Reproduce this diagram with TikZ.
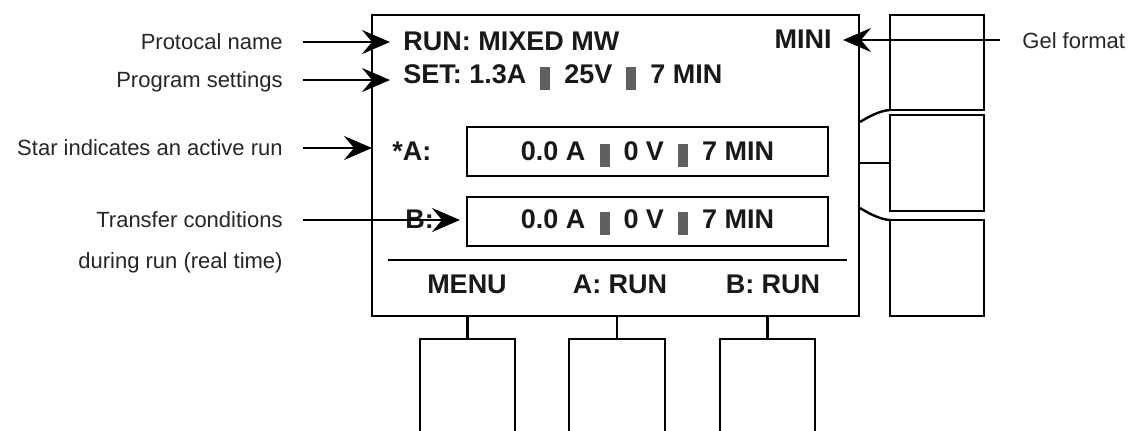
\documentclass[tikz,border=0pt]{standalone}
\usepackage{fontspec}
\setmainfont{Liberation Sans}
\usetikzlibrary{arrows.meta}
\newdimen\pxu \pxu=0.5pt
\definecolor{blkgray}{HTML}{606060}
\definecolor{lblcol}{HTML}{262626}
\newcommand{\blk}{\hspace{7pt}{\color{blkgray}\rule[-3.5pt]{5pt}{11.5pt}}\hspace{7pt}}
\begin{document}
\begin{tikzpicture}[x=0.5pt,y=-0.5pt,
  box/.style={draw, line width=1.4pt, rectangle, inner sep=0pt, outer sep=0pt, anchor=north west},
  dt/.style={font=\bfseries\fontsize{13.5}{16}\selectfont, inner sep=0pt, text=black!90},
  lbl/.style={font=\fontsize{11}{13}\selectfont, text=lblcol, inner sep=0pt, anchor=base east},
  arr/.style={line width=1pt, -{Stealth[length=14pt,width=12pt,inset=5pt]}},
  conn/.style={line width=1.2pt}]
\useasboundingbox (0,0) rectangle (1130,430);
\fill[white] (0,0) rectangle (1130,430);
\clip (0,0) rectangle (1130,430);

% display frame and buttons
\node[box, minimum width=487\pxu, minimum height=301\pxu] (disp) at (372,15) {};
\node[box, minimum width=94\pxu, minimum height=95\pxu] (r1) at (890,15) {};
\node[box, minimum width=94\pxu, minimum height=96\pxu] (r2) at (890,115) {};
\node[box, minimum width=94\pxu, minimum height=96\pxu] (r3) at (890,220) {};
\node[box, minimum width=95\pxu, minimum height=100\pxu] (b1) at (420,339) {};
\node[box, minimum width=96\pxu, minimum height=100\pxu] (b2) at (569,339) {};
\node[box, minimum width=95\pxu, minimum height=100\pxu] (b3) at (720,339) {};
\node[box, minimum width=361\pxu, minimum height=49\pxu] (boxA) at (467,127) {};
\node[box, minimum width=361\pxu, minimum height=49\pxu] (boxB) at (467,197) {};

\draw[line width=1.2pt] (388,260) -- (847,260);

% stems
\draw[conn] (b1.north) -- (b1.north |- disp.south);
\draw[conn] (b2.north) -- (b2.north |- disp.south);
\draw[conn] (b3.north) -- (b3.north |- disp.south);

% right connectors
\coordinate (c1) at (860,122);
\coordinate (c3) at (860,208);
\draw[conn] (r1.south west) .. controls (880,110.5) and (868,117) .. (c1);
\draw[conn] (r2.west) -- (r2.west -| disp.east);
\draw[conn] (r3.north west) .. controls (880,219.5) and (868,213) .. (c3);

% display texts
\node[dt, anchor=base west] (run) at (403,50) {RUN: MIXED MW};
\node[dt, anchor=base east] (mini) at (832,48) {MINI};
\node[dt, anchor=base west] (set) at (403,83) {SET: 1.3A\blk 25V\blk 7 MIN};
\node[dt, anchor=base west] (sa) at (392,160) {*A:};
\node[dt, anchor=base west] (sb) at (405,228) {B:};
\node[dt, anchor=base] (ta) at (647.5,160) {0.0 A\blk 0 V\blk 7 MIN};
\node[dt, anchor=base] (tb) at (647.5,228) {0.0 A\blk 0 V\blk 7 MIN};
\node[dt, anchor=base] (menu) at (467,293) {MENU};
\node[dt, anchor=base] (arun) at (620,293) {A: RUN};
\node[dt, anchor=base] (brun) at (773,293) {B: RUN};

% labels
\node[lbl] (l1) at (283,49) {Protocal name};
\node[lbl] (l2) at (283,87) {Program settings};
\node[lbl] (l3) at (283,155) {Star indicates an active run};
\node[lbl] (l4) at (283,227) {Transfer conditions};
\node[lbl] (l5) at (283,268) {during run (real time)};
\node[lbl, anchor=base west] (gel) at (1022,48) {Gel format};

% arrows
\coordinate (s1) at ([shift={(20,-7)}]l1.base east);
\coordinate (e1) at ([shift={(-13,-8)}]run.base west);
\draw[arr] (s1) -- (e1);
\coordinate (s2) at ([shift={(20,-7)}]l2.base east);
\coordinate (e2) at ([shift={(-13,-3)}]set.base west);
\draw[arr] (s2) -- (e2);
\coordinate (s3) at ([shift={(20,-7)}]l3.base east);
\draw[arr] (s3) -- (s3 -| disp.west);
\coordinate (s4) at ([shift={(20,-7)}]l4.base east);
\path (s4 -| boxB.west) ++(-7,0) coordinate (e4);
\draw[arr] (s4) -- (e4);
\coordinate (s5) at ([shift={(-22,-8)}]gel.base west);
\coordinate (e5) at ([shift={(11,-8)}]mini.base east);
\draw[arr] (s5) -- (e5);
\end{tikzpicture}
\end{document}
